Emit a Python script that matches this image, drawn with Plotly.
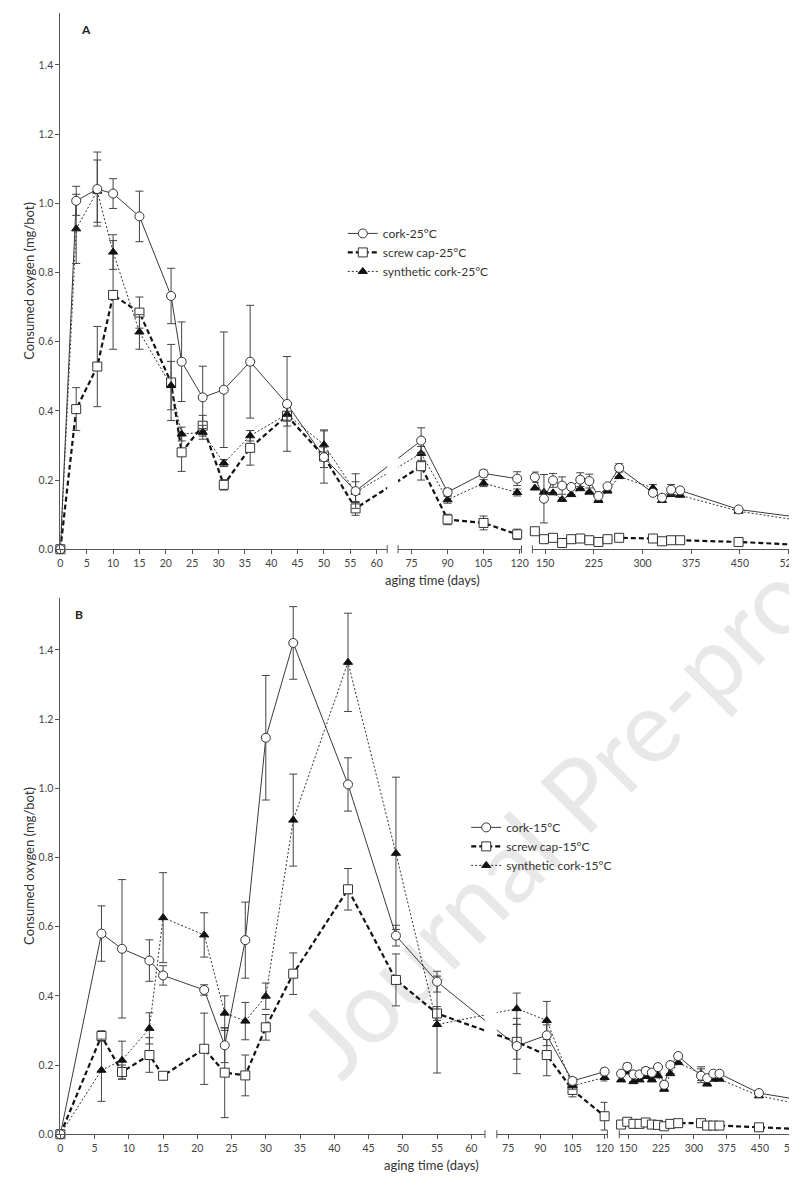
import plotly.graph_objects as go

W, H = 797, 1177
FONT = "Lato"

# ---------------- data ----------------
# Panel A: 25 °C
days_A = [0, 3, 7, 10, 15, 21, 23, 27, 31, 36, 43, 50, 56,
          79, 90, 105, 119,
          134, 148, 162, 176, 190, 204, 218, 232, 246, 264, 316, 330, 344, 358, 448, 538]
cork_A = [0, 1.007, 1.041, 1.028, 0.962, 0.732, 0.542, 0.439, 0.461, 0.542, 0.420, 0.266, 0.168,
          0.314, 0.165, 0.219, 0.204,
          0.208, 0.146, 0.199, 0.184, 0.180, 0.201, 0.197, 0.154, 0.182, 0.235, 0.163, 0.149, 0.172, 0.170, 0.115, 0.093]
cork_A_err = [0, 0.042, 0.107, 0.043, 0.073, 0.080, 0.115, 0.090, 0.167, 0.163, 0.137, 0.030, 0.050,
              0.037, 0.010, 0.010, 0.020,
              0.015, 0.070, 0.020, 0.025, 0, 0.020, 0.020, 0, 0, 0.012, 0, 0, 0.015, 0, 0, 0]
screw_A = [0, 0.405, 0.528, 0.735, 0.684, 0.482, 0.280, 0.357, 0.186, 0.293, 0.386, 0.268, 0.118,
           0.240, 0.086, 0.076, 0.043,
           0.052, 0.029, 0.033, 0.018, 0.029, 0.031, 0.026, 0.021, 0.029, 0.033, 0.031, 0.023, 0.026, 0.026, 0.021, 0.013]
screw_A_err = [0, 0.062, 0.116, 0.157, 0.045, 0.110, 0.055, 0.030, 0.015, 0.050, 0.030, 0.077, 0.020,
               0.040, 0.015, 0.020, 0.015,
               0, 0, 0, 0, 0, 0, 0, 0, 0, 0, 0, 0, 0, 0, 0, 0]
syn_A = [0, 0.926, 1.035, 0.859, 0.628, 0.473, 0.333, 0.338, 0.249, 0.328, 0.390, 0.302, 0.165,
         0.277, 0.143, 0.191, 0.164,
         0.177, 0.165, 0.163, 0.144, 0.158, 0.175, 0.165, 0.141, 0.168, 0.210, 0.177, 0.141, 0.158, 0.156, 0.110, 0.084]
syn_A_err = [0, 0.100, 0.090, 0.050, 0.050, 0.070, 0.020, 0.020, 0.010, 0.015, 0.020, 0.040, 0.030,
             0.020, 0.010, 0.010, 0.010,
             0, 0, 0, 0, 0, 0, 0, 0, 0, 0, 0.010, 0, 0, 0, 0, 0]

# Panel B: 15 °C
days_B = [0, 6, 9, 13, 15, 21, 24, 27, 30, 34, 42, 49, 55,
          79, 93, 105, 120,
          134, 148, 162, 176, 190, 204, 218, 232, 246, 264, 316, 330, 344, 358, 448, 538]
cork_B = [0, 0.580, 0.536, 0.502, 0.459, 0.417, 0.257, 0.561, 1.146, 1.420, 1.011, 0.574, 0.441,
          0.255, 0.286, 0.154, 0.181,
          0.175, 0.195, 0.173, 0.173, 0.183, 0.178, 0.194, 0.143, 0.200, 0.226, 0.169, 0.162, 0.175, 0.175, 0.119, 0.100]
cork_B_err = [0, 0.080, 0.200, 0.060, 0.028, 0.015, 0.050, 0.110, 0.180, 0.105, 0.077, 0.030, 0.030,
              0.080, 0.030, 0.010, 0.010,
              0, 0.010, 0, 0, 0.010, 0, 0, 0, 0, 0, 0.020, 0, 0, 0, 0, 0]
screw_B = [0, 0.284, 0.180, 0.229, 0.169, 0.247, 0.178, 0.170, 0.309, 0.464, 0.708, 0.446, 0.349,
           0.267, 0.229, 0.128, 0.052,
           0.028, 0.036, 0.030, 0.030, 0.034, 0.028, 0.027, 0.023, 0.030, 0.032, 0.032, 0.025, 0.025, 0.025, 0.020, 0.015]
screw_B_err = [0, 0.015, 0.020, 0.050, 0, 0.103, 0.130, 0.059, 0.037, 0.060, 0.060, 0.075, 0.020,
               0.050, 0.060, 0.020, 0.040,
               0, 0.010, 0, 0, 0, 0, 0, 0, 0, 0, 0, 0, 0, 0, 0, 0]
syn_B = [0, 0.185, 0.214, 0.306, 0.626, 0.576, 0.350, 0.327, 0.399, 0.908, 1.364, 0.812, 0.317,
         0.363, 0.329, 0.140, 0.164,
         0.157, 0.180, 0.152, 0.157, 0.167, 0.157, 0.169, 0.130, 0.175, 0.207, 0.175, 0.145, 0.159, 0.159, 0.111, 0.087]
syn_B_err = [0, 0.090, 0.055, 0.045, 0.130, 0.064, 0.050, 0.054, 0.038, 0.133, 0.142, 0.220, 0.140,
             0.045, 0.055, 0.010, 0.010,
             0, 0, 0, 0, 0, 0, 0, 0, 0, 0, 0.020, 0, 0, 0, 0, 0]

ticks_seg1 = [0, 5, 10, 15, 20, 25, 30, 35, 40, 45, 50, 55, 60]
ticks_seg2 = [75, 90, 105, 120]
ticks_seg3 = [150, 225, 300, 375, 450, 525]
seg_limits = [(0, 65), (65, 125), (125, 600)]   # day bounds for assigning points to segments

# ---------------- layout geometry ----------------
panels = [
    dict(name="A", temp="25°C", days=days_A,
         series=[(cork_A, cork_A_err), (screw_A, screw_A_err), (syn_A, syn_A_err)],
         ypx=(5, 544), xaxes=["x", "x2", "x3"], yaxis="y",
         dom=[(50, 381), (392, 517), (528, 797)],
         rng=[(0, 62), (69.4, 120.8), (130.2, 539.6)],
         legend="legend", label_xy=(76, 22), xtitle_xy=(427, 575)),
    dict(name="B", temp="15°C", days=days_B,
         series=[(cork_B, cork_B_err), (screw_B, screw_B_err), (syn_B, syn_B_err)],
         ypx=(593, 1132), xaxes=["x4", "x5", "x6"], yaxis="y2",
         dom=[(50, 480), (492, 604), (616, 797)],
         rng=[(0, 62), (69.7, 121.3), (129.8, 536.9)],
         legend="legend2", label_xy=(69, 610), xtitle_xy=(426, 1163)),
]

names = ["cork", "screw cap", "synthetic cork"]
styles = [
    dict(line=dict(color="#3a3a3a", width=1),
         marker=dict(symbol="circle", size=9, color="white", line=dict(color="#333", width=1))),
    dict(line=dict(color="#111", width=2.2, dash="5px,3px"),
         marker=dict(symbol="square", size=9, color="white", line=dict(color="#333", width=1))),
    dict(line=dict(color="#333", width=1, dash="2px,2px"),
         marker=dict(symbol="triangle-up", size=8, color="#111", line=dict(color="#111", width=1))),
]


def conv(p, d, a, b):
    """express day d of segment a in the data units of segment b (same pixel position)"""
    (da0, da1), (ra0, ra1) = p["dom"][a], p["rng"][a]
    px = da0 + (d - ra0) / (ra1 - ra0) * (da1 - da0)
    (db0, db1), (rb0, rb1) = p["dom"][b], p["rng"][b]
    return rb0 + (px - db0) / (db1 - db0) * (rb1 - rb0)


fig = go.Figure()
shapes = []
annotations = []
layout = {}

for p in panels:
    days = p["days"]
    seg_idx = [[i for i, d in enumerate(days) if lo <= d < hi] for lo, hi in seg_limits]
    # legend entries
    for k, nm in enumerate(names):
        fig.add_trace(go.Scatter(x=[None], y=[None], mode="lines+markers", name=f"{nm}-{p['temp']}",
                                 line=styles[k]["line"], marker=styles[k]["marker"],
                                 xaxis=p["xaxes"][0], yaxis=p["yaxis"], legend=p["legend"],
                                 showlegend=True, hoverinfo="skip"))
    # lines (including the parts crossing the axis breaks, clipped by each segment)
    for s in range(3):
        for k in range(3):
            vals = p["series"][k][0]
            xs = [days[i] for i in seg_idx[s]]
            ys = [vals[i] for i in seg_idx[s]]
            if s > 0:
                j = seg_idx[s - 1][-1]
                xs = [conv(p, days[j], s - 1, s)] + xs
                ys = [vals[j]] + ys
            if s < 2:
                j = seg_idx[s + 1][0]
                xs = xs + [conv(p, days[j], s + 1, s)]
                ys = ys + [vals[j]]
            fig.add_trace(go.Scatter(x=xs, y=ys, mode="lines", line=styles[k]["line"],
                                     xaxis=p["xaxes"][s], yaxis=p["yaxis"], showlegend=False,
                                     hoverinfo="skip"))
    # markers with error bars
    for s in range(3):
        for k in [1, 2, 0]:
            vals, errs = p["series"][k]
            xs = [days[i] for i in seg_idx[s]]
            ys = [vals[i] for i in seg_idx[s]]
            es = [errs[i] if errs[i] > 0 else None for i in seg_idx[s]]
            fig.add_trace(go.Scatter(x=xs, y=ys, mode="markers", marker=styles[k]["marker"],
                                     error_y=dict(type="data", array=es, visible=True,
                                                  color="#444", thickness=1, width=4),
                                     cliponaxis=False,
                                     xaxis=p["xaxes"][s], yaxis=p["yaxis"], showlegend=False))

    y0px, y1px = p["ypx"]
    ydom = [1 - y1px / H, 1 - y0px / H]
    ticksets = [ticks_seg1, ticks_seg2, ticks_seg3]
    for s, ax in enumerate(p["xaxes"]):
        key = "xaxis" if ax == "x" else "xaxis" + ax[1:]
        d0, d1 = p["dom"][s]
        layout[key] = dict(domain=[d0 / W, d1 / W], range=list(p["rng"][s]), anchor=p["yaxis"],
                           showline=True, linecolor="#555", linewidth=1,
                           ticks="outside", ticklen=4, tickcolor="#555", tickwidth=1,
                           tickvals=ticksets[s], ticktext=[str(t) for t in ticksets[s]],
                           tickfont=dict(family=FONT, size=10.5, color="#444"),
                           showgrid=False, zeroline=False, fixedrange=True)
        # break caps at segment ends
        ends = []
        if s > 0:
            ends.append(0)
        if s < 2:
            ends.append(1)
        for e in ends:
            shapes.append(dict(type="line", xref=f"{ax} domain", yref="paper",
                               x0=e, x1=e, y0=1 - (y1px + 4) / H, y1=1 - (y1px - 4) / H,
                               line=dict(color="#555", width=1)))
    ykey = "yaxis" if p["yaxis"] == "y" else "yaxis" + p["yaxis"][1:]
    layout[ykey] = dict(domain=ydom, range=[0, 1.55], anchor=p["xaxes"][0],
                        showline=True, linecolor="#555", linewidth=1,
                        ticks="outside", ticklen=4, tickcolor="#555",
                        tickvals=[0, 0.2, 0.4, 0.6, 0.8, 1.0, 1.2, 1.4], tickformat=".1f",
                        tickfont=dict(family=FONT, size=10.5, color="#444"),
                        showgrid=False, zeroline=False, fixedrange=True)
    lx, ly = p["label_xy"]
    annotations.append(dict(text=f"<b>{p['name']}</b>", x=lx / W, y=1 - ly / H, xref="paper",
                            yref="paper", showarrow=False, xanchor="center", yanchor="middle",
                            font=dict(family=FONT, size=12, color="#222")))
    tx, ty = p["xtitle_xy"]
    annotations.append(dict(text="aging time (days)", x=tx / W, y=1 - ty / H, xref="paper",
                            yref="paper", showarrow=False, xanchor="center", yanchor="middle",
                            font=dict(family=FONT, size=13, color="#333")))
    annotations.append(dict(text="Consumed oxygen (mg/bot)", x=18 / W, y=1 - (y0px + y1px) / 2 / H,
                            xref="paper", yref="paper", showarrow=False, textangle=-90,
                            xanchor="center", yanchor="middle",
                            font=dict(family=FONT, size=13, color="#333")))

# watermark
shapes.append(dict(type="rect", xref="paper", yref="paper", layer="below",
                   x0=230 / W, x1=930 / W, y0=1 - 1130 / H, y1=1 - 430 / H,
                   line=dict(width=0), fillcolor="rgba(0,0,0,0)",
                   label=dict(text="Journal Pre-proof", textangle=-45, textposition="middle center",
                              font=dict(family=FONT, size=100, color="#e8e8e8"))))

legend_common = dict(xanchor="left", yanchor="top", bgcolor="rgba(0,0,0,0)", borderwidth=0,
                     font=dict(family=FONT, size=12, color="#333"), tracegroupgap=0, itemwidth=30)
layout["legend"] = dict(x=336 / W, y=1 - 212 / H, **legend_common)
layout["legend2"] = dict(x=461 / W, y=1 - 809 / H, **legend_common)

fig.update_layout(width=W, height=H, margin=dict(l=0, r=0, t=0, b=0),
                  paper_bgcolor="white", plot_bgcolor="rgba(0,0,0,0)",
                  font=dict(family=FONT), shapes=shapes, annotations=annotations, **layout)
fig.write_html("out.html")
